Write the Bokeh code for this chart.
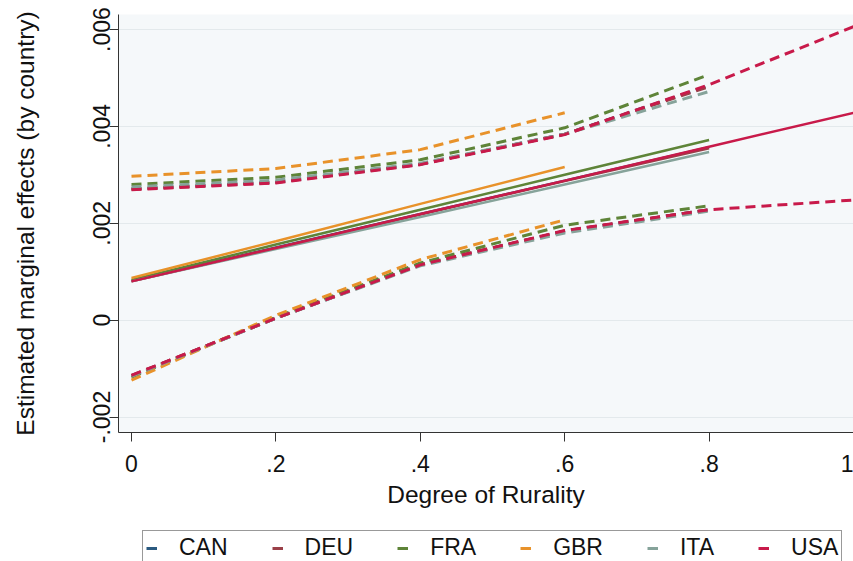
from bokeh.plotting import figure
from bokeh.layouts import column
from bokeh.models import FixedTicker, Range1d, Legend, LegendItem
from bokeh.embed import file_html
from bokeh.resources import INLINE

# ---- data ----
countries = ["CAN", "DEU", "FRA", "GBR", "ITA", "USA"]
colors = ["#2b5a80", "#9a4048", "#5e8438", "#e8922a", "#86a39a", "#c81a4a"]

x_can = [0, 0.2, 0.4, 0.6, 0.8]
est_can = [0.00081, 0.00150, 0.00219, 0.00288, 0.00357]
up_can = [0.00271, 0.00285, 0.00322, 0.00384, 0.00484]
lo_can = [-0.00115, 0.00004, 0.00114, 0.00184, 0.00228]

x_deu = [0, 0.2, 0.4, 0.6, 0.8]
est_deu = [0.00080, 0.00149, 0.00218, 0.00287, 0.00355]
up_deu = [0.00270, 0.00284, 0.00322, 0.00384, 0.00482]
lo_deu = [-0.00114, 0.00004, 0.00114, 0.00184, 0.00228]

x_fra = [0, 0.2, 0.4, 0.6, 0.8]
est_fra = [0.00083, 0.00156, 0.00228, 0.00300, 0.00372]
up_fra = [0.00280, 0.00295, 0.00331, 0.00397, 0.00507]
lo_fra = [-0.00118, 0.00006, 0.00118, 0.00196, 0.00236]

x_gbr = [0, 0.2, 0.4, 0.6]
est_gbr = [0.00087, 0.00163, 0.00240, 0.00316]
up_gbr = [0.00297, 0.00313, 0.00352, 0.00428]
lo_gbr = [-0.00124, 0.00010, 0.00125, 0.00207]

x_ita = [0, 0.2, 0.4, 0.6, 0.8]
est_ita = [0.00080, 0.00147, 0.00213, 0.00280, 0.00347]
up_ita = [0.00275, 0.00289, 0.00324, 0.00384, 0.00472]
lo_ita = [-0.00116, 0.00004, 0.00112, 0.00180, 0.00225]

x_usa = [0, 0.2, 0.4, 0.6, 0.8, 1.0]
est_usa = [0.00080, 0.00149, 0.00219, 0.00288, 0.00358, 0.00428]
up_usa = [0.00269, 0.00283, 0.00321, 0.00383, 0.00486, 0.00606]
lo_usa = [-0.00114, 0.00004, 0.00114, 0.00185, 0.00228, 0.00248]

x_ticks = [0, 0.2, 0.4, 0.6, 0.8, 1.0]
x_tick_labels = ["0", ".2", ".4", ".6", ".8", "1"]
y_ticks = [-0.002, 0.0, 0.002, 0.004, 0.006]
y_tick_labels = ["-.002", "0", ".002", ".004", ".006"]

series = [
    (x_can, est_can, up_can, lo_can),
    (x_deu, est_deu, up_deu, lo_deu),
    (x_fra, est_fra, up_fra, lo_fra),
    (x_gbr, est_gbr, up_gbr, lo_gbr),
    (x_ita, est_ita, up_ita, lo_ita),
    (x_usa, est_usa, up_usa, lo_usa),
]

FONT = "Liberation Sans"

p = figure(width=853, height=528, output_backend="svg", toolbar_location=None,
           x_range=Range1d(-0.018, 1.0), y_range=Range1d(-0.00232, 0.00631),
           min_border_left=118, min_border_right=0, min_border_top=14,
           min_border_bottom=96,
           background_fill_color="#f5f8fa", border_fill_color="white",
           outline_line_color=None)

p.xgrid.visible = False
p.ygrid.ticker = FixedTicker(ticks=y_ticks)
p.ygrid.grid_line_color = "#e3e9ec"
p.ygrid.grid_line_width = 1

for (xs, est, up, lo), col in zip(series, colors):
    p.line(xs, up, line_color=col, line_width=3, line_dash="10 6")
    p.line(xs, lo, line_color=col, line_width=3, line_dash="10 6")
    p.line(xs, est, line_color=col, line_width=2.5)

for ax in (p.xaxis[0], p.yaxis[0]):
    ax.axis_line_color = "#333333"
    ax.major_tick_line_color = "#333333"
    ax.major_tick_out = 9
    ax.major_tick_in = 0
    ax.minor_tick_line_color = None
    ax.major_label_text_font = FONT
    ax.major_label_text_font_size = "23px"
    ax.major_label_text_color = "#111111"
    ax.axis_label_text_font = FONT
    ax.axis_label_text_font_size = "24.5px"
    ax.axis_label_text_font_style = "normal"
    ax.axis_label_text_color = "#111111"

p.xaxis.ticker = FixedTicker(ticks=x_ticks)
p.xaxis.major_label_overrides = dict(zip(x_ticks, x_tick_labels))
p.xaxis.axis_label = "Degree of Rurality"
p.xaxis.major_label_standoff = 13
p.xaxis.axis_label_standoff = 6

p.yaxis.ticker = FixedTicker(ticks=y_ticks)
p.yaxis.major_label_overrides = dict(zip(y_ticks, y_tick_labels))
p.yaxis.major_label_orientation = "vertical"
p.yaxis.axis_label = "Estimated marginal effects (by country)"
p.yaxis.major_label_standoff = -1
p.yaxis.axis_label_standoff = 52

# ---- legend strip below the chart (its frame is aligned with the chart's) ----
lg = figure(width=853, height=33, output_backend="svg", toolbar_location=None,
            x_range=Range1d(-0.018, 1.0), y_range=Range1d(1.0, 2.0),
            x_axis_location=None, y_axis_location=None,
            min_border=0, outline_line_color=None,
            background_fill_color="white", border_fill_color="white")
lg.grid.visible = False
# key lines share the estimate data; they lie outside this strip's view, only their legend keys show
legend_lines = [lg.line(xs, est, line_color=col, line_width=3)
                for (xs, est, up, lo), col in zip(series, colors)]

legend = Legend(
    items=[LegendItem(label=c, renderers=[r]) for c, r in zip(countries, legend_lines)],
    orientation="horizontal", location=(24, -4),
    glyph_width=11, glyph_height=20, label_standoff=22, spacing=44,
    padding=3, margin=0,
    border_line_color="#333333", border_line_width=1,
    background_fill_color="white",
    label_text_font=FONT, label_text_font_size="23px", label_text_color="#111111",
)
lg.add_layout(legend, "center")

layout = column(p, lg, spacing=0)
open("out.html", "w").write(file_html(layout, INLINE))
